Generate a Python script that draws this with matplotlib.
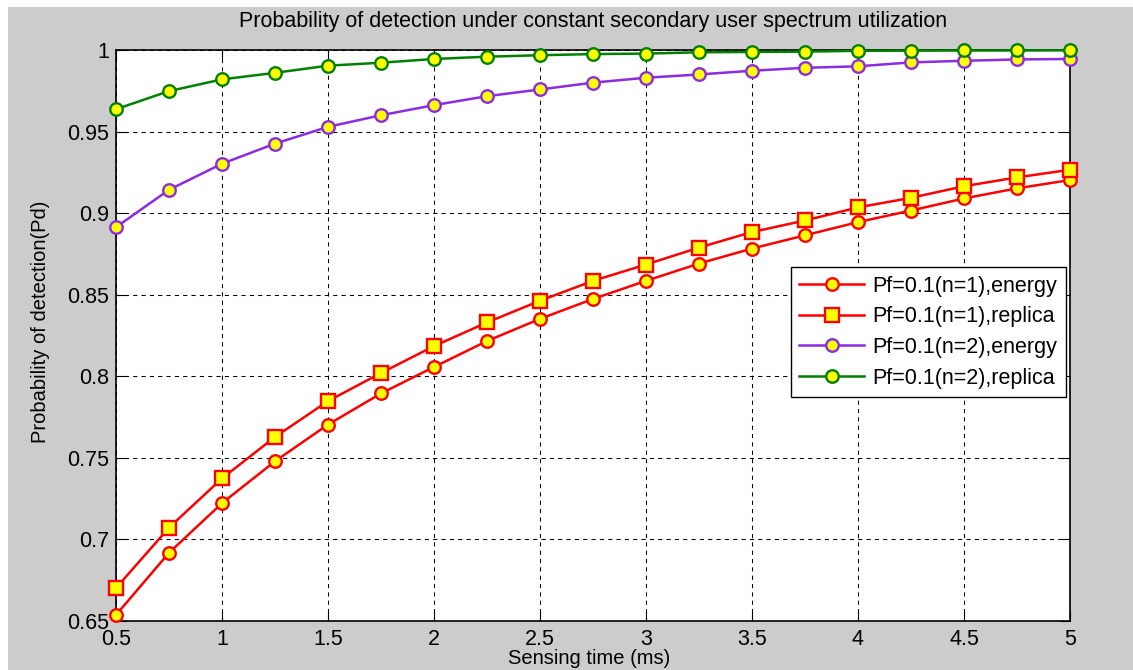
import matplotlib
matplotlib.use("Agg")
import matplotlib.pyplot as plt
from matplotlib.patches import Rectangle

plt.rcParams['font.family'] = ['Liberation Sans', 'DejaVu Sans']

# Sensing time (ms)
sensing_time = [0.5, 0.75, 1.0, 1.25, 1.5, 1.75, 2.0, 2.25, 2.5, 2.75,
                3.0, 3.25, 3.5, 3.75, 4.0, 4.25, 4.5, 4.75, 5.0]

# Probability of detection for each scheme
pd_n1_energy = [0.6537, 0.6918, 0.7222, 0.7479, 0.7704, 0.7895, 0.8057, 0.8216,
                0.8352, 0.8474, 0.8585, 0.8691, 0.8783, 0.8864, 0.8945, 0.9016,
                0.9090, 0.9152, 0.9203]
pd_n1_replica = [0.6702, 0.7072, 0.7374, 0.7628, 0.7848, 0.8020, 0.8185, 0.8330,
                 0.8463, 0.8585, 0.8685, 0.8789, 0.8884, 0.8955, 0.9035, 0.9094,
                 0.9165, 0.9219, 0.9266]
pd_n2_energy = [0.8914, 0.9143, 0.9303, 0.9426, 0.9529, 0.9600, 0.9662, 0.9717,
                0.9758, 0.9800, 0.9830, 0.9850, 0.9873, 0.9891, 0.9900, 0.9924,
                0.9934, 0.9942, 0.9945]
pd_n2_replica = [0.9637, 0.9748, 0.9820, 0.9860, 0.9904, 0.9922, 0.9945, 0.9959,
                 0.9968, 0.9975, 0.9978, 0.9986, 0.9988, 0.9990, 0.9995, 0.9996,
                 0.9997, 0.9997, 0.9998]

series_labels = ['Pf=0.1(n=1),energy', 'Pf=0.1(n=1),replica',
                 'Pf=0.1(n=2),energy', 'Pf=0.1(n=2),replica']

x_ticks = [0.5, 1, 1.5, 2, 2.5, 3, 3.5, 4, 4.5, 5]
x_tick_labels = ['0.5', '1', '1.5', '2', '2.5', '3', '3.5', '4', '4.5', '5']
y_ticks = [0.65, 0.7, 0.75, 0.8, 0.85, 0.9, 0.95, 1.0]
y_tick_labels = ['0.65', '0.7', '0.75', '0.8', '0.85', '0.9', '0.95', '1']

W, H = 1133, 670
fig = plt.figure(figsize=(W / 100, H / 100), dpi=100)
fig.patch.set_facecolor('white')
fig.add_artist(Rectangle((8 / W, 0), 1, 1 - 7 / H, transform=fig.transFigure,
                         facecolor='#cccccc', edgecolor='none', zorder=-10))

ax_l, ax_r, ax_t, ax_b = 116, 1070, 50, 621
ax = fig.add_axes([ax_l / W, 1 - ax_b / H, (ax_r - ax_l) / W, (ax_b - ax_t) / H])
ax.set_facecolor('white')

FS = 15.5
YELLOW = '#ffff00'
styles = [
    (pd_n1_energy, '#ff0000', 'o', 9),
    (pd_n1_replica, '#ff0000', 's', 10),
    (pd_n2_energy, '#8b2be2', 'o', 9),
    (pd_n2_replica, '#008000', 'o', 9),
]
for (vals, col, mk, ms), lab in zip(styles, series_labels):
    ax.plot(sensing_time, vals, color=col, lw=1.8, marker=mk, ms=ms,
            mfc=YELLOW, mec=col, mew=1.7, label=lab, clip_on=False, zorder=3)

ax.set_xlim(0.5, 5)
ax.set_ylim(0.65, 1.0)
ax.set_xticks(x_ticks)
ax.set_xticklabels(x_tick_labels)
ax.set_yticks(y_ticks)
ax.set_yticklabels(y_tick_labels)

ax.grid(True, color='black', linestyle=(0, (4, 4)), linewidth=0.75)
ax.set_axisbelow(True)
ax.tick_params(direction='in', length=7, width=0.8, top=True, right=True,
               labelsize=FS, colors='black')
ax.tick_params(axis='x', pad=6)
ax.tick_params(axis='y', pad=5)
for s in ax.spines.values():
    s.set_linewidth(1.2)
    s.set_color('black')

ax.set_title('Probability of detection under constant secondary user spectrum utilization',
             fontsize=FS, y=(ax_b - 22) / (ax_b - ax_t), va='center', pad=0)
ax.set_xlabel('Sensing time (ms)', fontsize=14.5, va='center')
ax.xaxis.set_label_coords((589 - ax_l) / (ax_r - ax_l), (ax_b - 658) / (ax_b - ax_t))
ax.set_ylabel('Probability of detection(Pd)', fontsize=14.5, va='center')
ax.yaxis.set_label_coords((41 - ax_l) / (ax_r - ax_l), (ax_b - 321.5) / (ax_b - ax_t))

leg = ax.legend(loc='upper right',
                bbox_to_anchor=((1066 - ax_l) / (ax_r - ax_l), (ax_b - 267) / (ax_b - ax_t)),
                fontsize=FS, frameon=True, fancybox=False, shadow=False,
                framealpha=1, edgecolor='black', handlelength=3.0,
                handletextpad=0.4, labelspacing=0.45, borderpad=0.4,
                borderaxespad=0)
leg.get_frame().set_linewidth(1.0)

fig.savefig('out.png', dpi=100, facecolor=fig.get_facecolor())
